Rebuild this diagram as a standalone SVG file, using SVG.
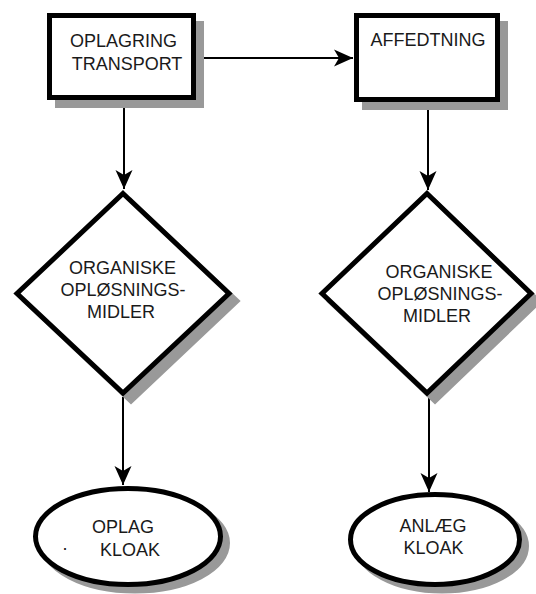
<svg xmlns="http://www.w3.org/2000/svg" width="536" height="594" viewBox="0 0 536 594">
  <style>
    .shape { fill: #ffffff; stroke: #000000; stroke-width: 5; stroke-linejoin: miter; }
    .shadow { fill: #999999; stroke: #999999; stroke-width: 5; }
    .label { font-family: "Liberation Sans", Arial, sans-serif; font-size: 18px; fill: #1a1a1a; text-anchor: middle; }
    .flow { stroke: #000000; stroke-width: 2; fill: none; marker-end: url(#arrow); }
  </style>
  <defs>
    <marker id="arrow" markerUnits="userSpaceOnUse" markerWidth="20" markerHeight="18" viewBox="-20 -9 20 18" refX="0" refY="0" orient="auto">
      <path d="M0,0 L-19,-8.5 L-14,0 L-19,8.5 Z" fill="#000000"/>
    </marker>
  </defs>

  <!-- connectors -->
  <g id="connectors">
    <line class="flow" x1="196" y1="58" x2="353" y2="58"/>
    <line class="flow" x1="124" y1="100" x2="124" y2="189"/>
    <line class="flow" x1="428" y1="102" x2="428" y2="190"/>
    <line class="flow" x1="123" y1="397" x2="123" y2="485"/>
    <line class="flow" x1="429" y1="397" x2="429" y2="492"/>
  </g>

  <!-- storage / transport -->
  <g id="oplagring">
    <rect class="shadow" x="57.5" y="23.5" width="144" height="82"/>
    <rect class="shape" x="49.5" y="15.5" width="144" height="82"/>
    <text class="label" x="123.5" y="47">OPLAGRING</text>
    <text class="label" x="127" y="70">TRANSPORT</text>
  </g>

  <!-- degreasing -->
  <g id="affedtning">
    <rect class="shadow" x="364.5" y="23.5" width="141" height="84"/>
    <rect class="shape" x="356.5" y="15.5" width="141" height="84"/>
    <text class="label" x="428" y="46">AFFEDTNING</text>
  </g>

  <!-- solvents, left branch -->
  <g id="solvents-left">
    <polygon class="shadow" points="131,201 237,301 131,401 25,301"/>
    <polygon class="shape" points="123,193.5 229,293.5 123,393 17,293.5"/>
    <text class="label" x="122.5" y="274">ORGANISKE</text>
    <text class="label" x="123" y="296">OPLØSNINGS-</text>
    <text class="label" x="121" y="318">MIDLER</text>
  </g>

  <!-- solvents, right branch -->
  <g id="solvents-right">
    <polygon class="shadow" points="435,201.5 539,301.5 435,401 330,301.5"/>
    <polygon class="shape" points="427,193.5 531,293.5 427,393 322,293.5"/>
    <text class="label" x="439" y="278">ORGANISKE</text>
    <text class="label" x="440" y="300">OPLØSNINGS-</text>
    <text class="label" x="437" y="322">MIDLER</text>
  </g>

  <!-- sewer from storage -->
  <g id="oplag-kloak">
    <ellipse class="shadow" cx="135" cy="543" rx="92.5" ry="48"/>
    <ellipse class="shape" cx="128" cy="536.5" rx="92.5" ry="48"/>
    <text class="label" x="123" y="533">OPLAG</text>
    <text class="label" x="130" y="556">KLOAK</text>
    <text class="label" x="65" y="550">.</text>
  </g>

  <!-- sewer from plant -->
  <g id="anlaeg-kloak">
    <ellipse class="shadow" cx="442" cy="546" rx="84.5" ry="45"/>
    <ellipse class="shape" cx="435" cy="539.5" rx="84.5" ry="45"/>
    <text class="label" x="433" y="532">ANLÆG</text>
    <text class="label" x="433.5" y="554">KLOAK</text>
  </g>
</svg>
